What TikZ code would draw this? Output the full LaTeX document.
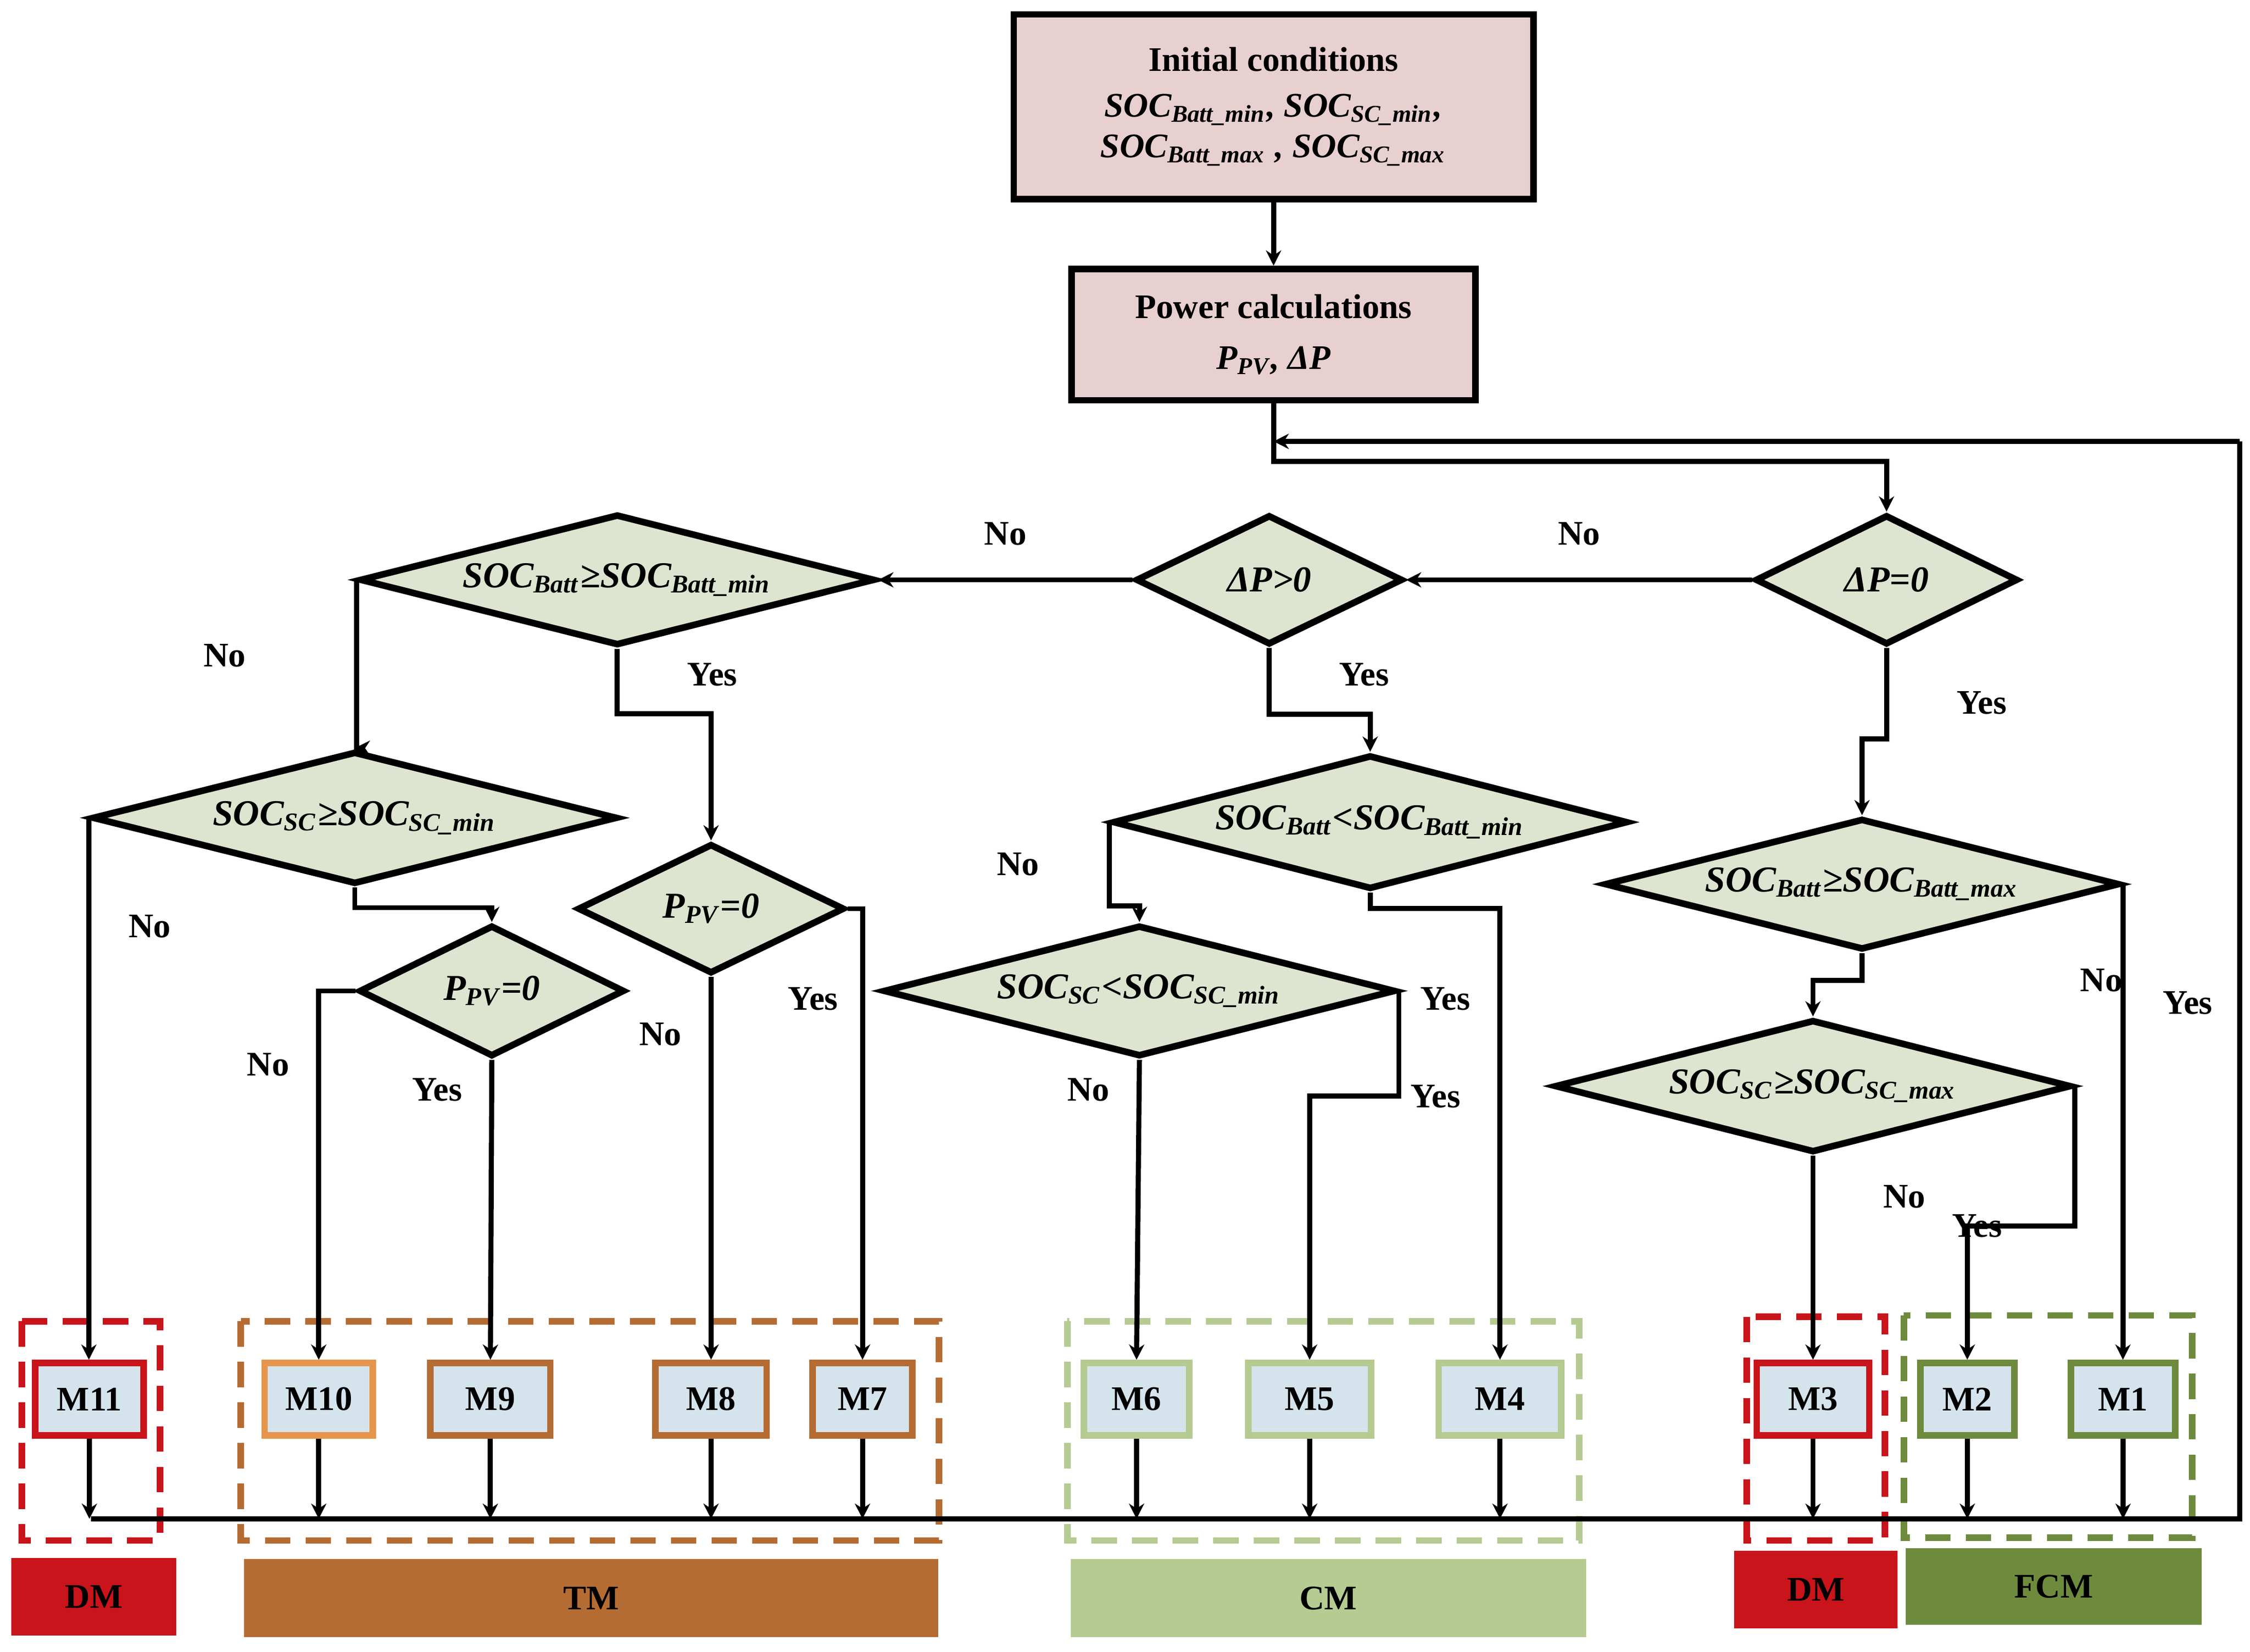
\documentclass[tikz,border=0pt]{standalone}
\usepackage{fontspec}
\setmainfont{Liberation Serif}
\usetikzlibrary{shapes.geometric,arrows.meta}
\definecolor{pinkf}{HTML}{E8D0D1}
\definecolor{dfill}{HTML}{DDE5D0}
\definecolor{mfill}{HTML}{D5E4EC}
\definecolor{cred}{HTML}{C8141A}
\definecolor{corange}{HTML}{E5964C}
\definecolor{cbrown}{HTML}{B56C33}
\definecolor{clgreen}{HTML}{B5CB92}
\definecolor{colive}{HTML}{6E8B3D}
\newcommand{\mysb}[1]{\textsubscript{#1}}
\begin{document}
\begin{tikzpicture}[x=0.01cm,y=-0.01cm,
  every node/.style={font=\fontsize{6.8}{8}\selectfont\bfseries},
  box/.style={draw,line width=1.3pt,fill=pinkf,minimum width=#1,inner sep=0pt,align=center},
  dia/.style={draw,line width=1.3pt,fill=dfill,diamond,aspect=#1,inner sep=1pt,font=\fontsize{7.2}{8}\selectfont\bfseries\itshape},
  mb/.style={draw=#1,line width=1.3pt,fill=mfill,minimum width=0.75cm,minimum height=0.5cm,inner sep=0pt},
  grp/.style={draw=#1,line width=1.3pt,dash pattern=on 5pt off 3pt},
  bar/.style={fill=#1,inner sep=0pt},
  ln/.style={line width=1pt},
  ar/.style={line width=1pt,-{Stealth[length=3pt,width=3pt]}},
  lb/.style={font=\fontsize{6.8}{8}\selectfont\bfseries}]
\useasboundingbox (0,0) rectangle (1560,1145);
% top boxes
\node[box=3.6cm,minimum height=1.28cm] (ic) at (883,74) {Initial conditions\\[1pt]\itshape SOC\mysb{Batt\_min}, SOC\mysb{SC\_min},\\ \itshape SOC\mysb{Batt\_max} , SOC\mysb{SC\_max}};
\node[box=2.8cm,minimum height=0.91cm] (pc) at (883,232) {Power calculations\\[2pt]\itshape P\mysb{PV}, ΔP};
\draw[ar] (ic) -- (pc);
% diamonds
\node[dia=2.0,minimum width=1.82cm,minimum height=0.9cm] (d0) at (1308,402) {ΔP=0};
\node[dia=2.0,minimum width=1.85cm,minimum height=0.9cm] (d1) at (880,402) {ΔP>0};
\node[dia=3.9,minimum width=3.57cm,minimum height=0.91cm] (d2) at (428,402) {SOC\mysb{Batt}≥SOC\mysb{Batt\_min}};
\node[dia=3.9,minimum width=3.64cm,minimum height=0.92cm] (d3) at (246,567) {SOC\mysb{SC}≥SOC\mysb{SC\_min}};
\node[dia=2.0,minimum width=1.85cm,minimum height=0.9cm] (d4) at (493,630) {P\mysb{PV}=0};
\node[dia=2.0,minimum width=1.84cm,minimum height=0.91cm] (d5) at (341,687) {P\mysb{PV}=0};
\node[dia=3.8,minimum width=3.57cm,minimum height=0.93cm] (d6) at (950,570) {SOC\mysb{Batt}<SOC\mysb{Batt\_min}};
\node[dia=3.8,minimum width=3.55cm,minimum height=0.91cm] (d7) at (790,687) {SOC\mysb{SC}<SOC\mysb{SC\_min}};
\node[dia=3.9,minimum width=3.57cm,minimum height=0.91cm] (d8) at (1291,613) {SOC\mysb{Batt}≥SOC\mysb{Batt\_max}};
\node[dia=3.9,minimum width=3.58cm,minimum height=0.92cm] (d9) at (1257,753) {SOC\mysb{SC}≥SOC\mysb{SC\_max}};
% groups
\draw[grp=cred] (15,916) rectangle (111,1068);
\draw[grp=cbrown] (167,916) rectangle (651,1068);
\draw[grp=clgreen] (740,916) rectangle (1095,1068);
\draw[grp=cred] (1211,913) rectangle (1307,1068);
\draw[grp=colive] (1320,912) rectangle (1520,1066);
% M boxes
\node[mb=cred] (m11) at (62,970) {M11};
\node[mb=corange] (m10) at (221,970) {M10};
\node[mb=cbrown,minimum width=0.83cm] (m9) at (340,970) {M9};
\node[mb=cbrown,minimum width=0.77cm] (m8) at (493,970) {M8};
\node[mb=cbrown,minimum width=0.69cm] (m7) at (598,970) {M7};
\node[mb=clgreen,minimum width=0.73cm] (m6) at (788,970) {M6};
\node[mb=clgreen,minimum width=0.85cm] (m5) at (908,970) {M5};
\node[mb=clgreen,minimum width=0.85cm] (m4) at (1040,970) {M4};
\node[mb=cred,minimum width=0.78cm] (m3) at (1257,970) {M3};
\node[mb=colive,minimum width=0.65cm] (m2) at (1364,970) {M2};
\node[mb=colive,minimum width=0.72cm] (m1) at (1472,970) {M1};
% bars
\node[bar=cred,minimum width=1.14cm,minimum height=0.54cm] (b1) at (65,1107) {DM};
\node[bar=cbrown,minimum width=4.81cm,minimum height=0.54cm] (b2) at (410,1108) {TM};
\node[bar=clgreen,minimum width=3.57cm,minimum height=0.54cm] (b3) at (921,1108) {CM};
\node[bar=cred,minimum width=1.13cm,minimum height=0.54cm] (b4) at (1259,1102) {DM};
\node[bar=colive,minimum width=2.05cm,minimum height=0.53cm] (b5) at (1424,1100) {FCM};
% main flow
\coordinate (j1) at (883,320);
\draw[ar] (pc.south) -- (j1) -| (d0.north);
\draw[ar] (d0.west) -- node[lb,above=3pt,pos=0.5]{No} (d1.east);
\draw[ar] (d1.west) -- node[lb,above=3pt,pos=0.5]{No} (d2.east);
\draw[ar] (d2.west) -- node[lb,pos=0.45,left=18pt]{No} (d2.west |- d3.north) -- (d3.north);
\draw[ar] (d2.south) -- node[lb,right=10pt,pos=0.4]{Yes} ++(0,45) -| (d4.north);
\draw[ar] (d3.west) -- node[lb,right=4pt,pos=0.2]{No} (d3.west |- m11.north);
\draw[ar] (d3.south) -- ++(0,14) -| (d5.north);
\draw[ar] (d5.west) -| node[lb,left=2pt,pos=0.6]{No} (m10.north);
\draw[ar] (d5.south) -- node[lb,left=2pt,pos=0.1]{Yes} (m9.north);
\draw[ar] (d4.south) -- node[lb,left=2pt,pos=0.15]{No} (m8.north);
\draw[ar] (d4.east) -| node[lb,left=1pt,pos=0.6]{Yes} (m7.north);
\draw[ar] (d1.south) -- node[lb,right=10pt,pos=0.4]{Yes} ++(0,46) -| (d6.north);
\draw[ar] (d6.west) -- node[lb,left=10pt,pos=0.5]{No} ++(0,58) -| (d7.north);
\draw[ar] (d6.south) -- ++(0,11) -| node[lb,left=2pt,pos=0.6]{Yes} (m4.north);
\draw[ar] (d7.south) -- node[lb,left=2pt,pos=0.1]{No} (m6.north);
\draw[ar] (d7.east) -- ++(0,73) -| node[lb,right=2pt,pos=0.1]{Yes} (m5.north);
\draw[ar] (d0.south) -- node[lb,right=10pt,pos=0.6]{Yes} ++(0,63) -| (d8.north);
\draw[ar] (d8.east) -- node[lb,right=4pt,pos=0.25]{Yes} (d8.east |- m1.north);
\draw[ar] (d8.south) -- ++(0,19) -| node[lb,right=45pt,pos=0.3]{No} (d9.north);
\draw[ar] (d9.south) -- node[lb,right=10pt,pos=0.2]{No} (m3.north);
\draw[ar] (d9.east) -- ++(0,97) -| node[lb,left=2pt,pos=0.2]{Yes} (m2.north);
% bus
\coordinate (bl) at (63,1053);
\coordinate (br) at (1553,1053);
\coordinate (tr) at (1553,306);
\coordinate (tl) at (883,306);
\foreach \m in {m11,m10,m9,m8,m7,m6,m5,m4,m3,m2,m1}{
  \draw[ar] (\m.south) -- (\m.south |- bl);}
\draw[ln] (bl) -- (br) -- (tr);
\draw[ar] (tr) -- (tl);
\end{tikzpicture}
\end{document}
